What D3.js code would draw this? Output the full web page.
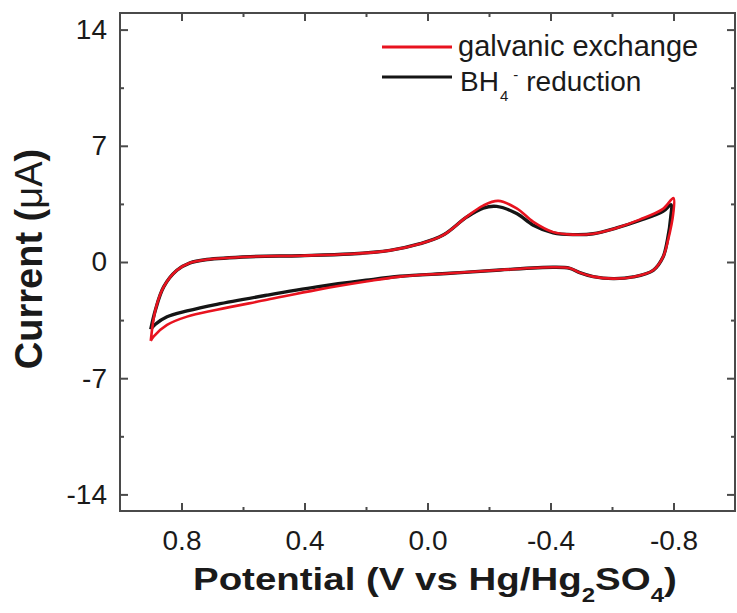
<!DOCTYPE html>
<html>
<head>
<meta charset="utf-8">
<script src="https://cdn.jsdelivr.net/npm/d3@7"></script>
<style>
  body { margin: 0; background: #fff; }
  svg text { font-family: "Liberation Sans", Arial, sans-serif; fill: #1a1a1a; }
</style>
</head>
<body>
<div id="plotPlaceholder"></div>
<script>
const seriesNames = ["galvanic exchange", "BH4- reduction"]
const potentialTicks = [0.8, 0.4, 0.0, -0.4, -0.8]
const potentialMinor = [0.6, 0.2, -0.2, -0.6]
const currentTicks = [14, 7, 0, -7, -14]
const currentMinor = [10.5, 3.5, -3.5, -10.5]

// red loop: anodic branch then cathodic branch
const galvanicPotential = [0.90, 0.885, 0.858, 0.815, 0.772, 0.717, 0.577, 0.414, 0.252, 0.122, 0.024,
  -0.051, -0.127, -0.181, -0.230, -0.290, -0.344, -0.409, -0.474, -0.539, -0.615, -0.690, -0.766, -0.800,
  -0.799, -0.782, -0.766, -0.734, -0.669, -0.604, -0.539, -0.495, -0.463, -0.409, -0.236, -0.073,
  0.089, 0.200, 0.360, 0.522, 0.685, 0.782, 0.847, 0.891, 0.90]
const galvanicCurrent = [-4.75, -2.9, -1.5, -0.5, -0.05, 0.15, 0.32, 0.38, 0.48, 0.7, 1.1,
  1.62, 2.72, 3.4, 3.68, 3.23, 2.42, 1.8, 1.65, 1.7, 2.05, 2.55, 3.2, 3.85,
  2.9, 1.3, 0.3, -0.5, -0.9, -1.0, -0.88, -0.64, -0.38, -0.32, -0.48, -0.68,
  -0.88, -1.18, -1.68, -2.28, -2.88, -3.29, -3.79, -4.49, -4.75]

// black loop
const borohydridePotential = [0.90, 0.885, 0.858, 0.815, 0.772, 0.717, 0.577, 0.414, 0.252, 0.122, 0.024,
  -0.051, -0.127, -0.181, -0.225, -0.290, -0.344, -0.409, -0.474, -0.539, -0.615, -0.690, -0.766, -0.792,
  -0.791, -0.780, -0.766, -0.734, -0.669, -0.604, -0.539, -0.495, -0.463, -0.409, -0.236, -0.073,
  0.089, 0.200, 0.360, 0.522, 0.685, 0.782, 0.847, 0.885, 0.90]
const borohydrideCurrent = [-4.05, -2.9, -1.5, -0.5, -0.05, 0.15, 0.32, 0.38, 0.48, 0.7, 1.1,
  1.62, 2.7, 3.25, 3.35, 2.92, 2.22, 1.76, 1.65, 1.7, 2.05, 2.5, 3.05, 3.45,
  2.7, 1.3, 0.3, -0.5, -0.9, -1.0, -0.88, -0.64, -0.38, -0.32, -0.48, -0.68,
  -0.86, -1.1, -1.5, -2.0, -2.55, -2.95, -3.3, -3.75, -4.05]

const margin = {top: 13, right: 2, bottom: 102, left: 120}
const width = 737 - margin.left - margin.right
const height = 613 - margin.top - margin.bottom

const x = d3.scaleLinear().domain([1.0, -1.0]).range([0, width])
const y = d3.scaleLinear().domain([-15, 15]).range([height, 0])

const canvas = d3.select("#plotPlaceholder").append("svg")
  .attr("width", 737)
  .attr("height", 613)

const focus = canvas.append("g")
  .attr("transform", "translate(" + margin.left + "," + margin.top + ")")

const styleAxis = (g) => {
  g.select(".domain").remove()
  g.selectAll(".tick line").attr("stroke", "#4a4a4a").attr("stroke-width", 2)
  g.selectAll(".tick text").style("font-size", "28px").attr("fill", "#1a1a1a")
}

// major ticks with labels
focus.append("g")
  .attr("transform", "translate(0," + height + ")")
  .call(d3.axisBottom(x).tickValues(potentialTicks).tickSize(-8).tickPadding(12).tickFormat(d => d.toFixed(1)))
  .call(styleAxis)
  .selectAll(".tick text").attr("dy", "0.95em")

focus.append("g")
  .call(d3.axisLeft(y).tickValues(currentTicks).tickSize(-8).tickPadding(13).tickFormat(d => String(d)))
  .call(styleAxis)

// mirrored ticks, no labels
focus.append("g")
  .call(d3.axisTop(x).tickValues(potentialTicks).tickSize(-8).tickFormat(""))
  .call(styleAxis)
focus.append("g")
  .attr("transform", "translate(" + width + ",0)")
  .call(d3.axisRight(y).tickValues(currentTicks).tickSize(-8).tickFormat(""))
  .call(styleAxis)

// minor ticks
focus.append("g")
  .attr("transform", "translate(0," + height + ")")
  .call(d3.axisBottom(x).tickValues(potentialMinor).tickSize(-4).tickFormat(""))
  .call(styleAxis)
focus.append("g")
  .call(d3.axisTop(x).tickValues(potentialMinor).tickSize(-4).tickFormat(""))
  .call(styleAxis)
focus.append("g")
  .call(d3.axisLeft(y).tickValues(currentMinor).tickSize(-4).tickFormat(""))
  .call(styleAxis)
focus.append("g")
  .attr("transform", "translate(" + width + ",0)")
  .call(d3.axisRight(y).tickValues(currentMinor).tickSize(-4).tickFormat(""))
  .call(styleAxis)

focus.append("rect")
  .attr("width", width)
  .attr("height", height)
  .attr("fill", "none")
  .attr("stroke", "#4a4a4a")
  .attr("stroke-width", 2)

const line = d3.line()
  .curve(d3.curveCatmullRom.alpha(0.5))
  .x(d => x(d.v))
  .y(d => y(d.i))

const toPoints = (vs, is) => vs.map((v, k) => ({v: v, i: is[k]}))

focus.append("path")
  .datum(toPoints(borohydridePotential, borohydrideCurrent))
  .attr("d", line)
  .attr("fill", "none")
  .attr("stroke", "#151515")
  .attr("stroke-width", 3.4)
  .attr("stroke-linejoin", "round")

focus.append("path")
  .datum(toPoints(galvanicPotential, galvanicCurrent))
  .attr("d", line)
  .attr("fill", "none")
  .attr("stroke", "#e8131f")
  .attr("stroke-width", 2.6)
  .attr("stroke-linejoin", "round")

// legend
const legend = canvas.append("g")
const legendColors = ["#e8131f", "#151515"]
const legendY = [47, 77]
seriesNames.forEach((name, k) => {
  legend.append("line")
    .attr("x1", 382).attr("x2", 452)
    .attr("y1", legendY[k]).attr("y2", legendY[k])
    .attr("stroke", legendColors[k])
    .attr("stroke-width", 3)
})
legend.append("text")
  .attr("x", 458).attr("y", 56)
  .style("font-size", "29px")
  .text(seriesNames[0])
const bh = legend.append("text")
  .attr("x", 460).attr("y", 91)
  .style("font-size", "28px")
bh.append("tspan").text("BH")
bh.append("tspan").attr("dx", 1).attr("dy", 10).style("font-size", "15px").text("4")
bh.append("tspan").attr("dx", 5).attr("dy", -21).style("font-size", "15px").text("-")
bh.append("tspan").attr("dx", 8).attr("dy", 11).text("reduction")

// Y Axis title
const yTitle = canvas.append("text")
  .attr("text-anchor", "middle")
  .attr("transform", "translate(42,259) rotate(-90)")
  .style("font-size", "38px")
yTitle.append("tspan").style("font-weight", "bold").text("Current (")
yTitle.append("tspan").text("μA")
yTitle.append("tspan").style("font-weight", "bold").text(")")

// X Axis title
const xTitle = canvas.append("text")
  .style("font-size", "32px")
  .style("font-weight", "bold")
xTitle.append("tspan").text("Potential (V vs Hg/Hg")
xTitle.append("tspan").attr("dy", 12).style("font-size", "20px").text("2")
xTitle.append("tspan").attr("dy", -12).text("SO")
xTitle.append("tspan").attr("dy", 12).style("font-size", "20px").text("4")
xTitle.append("tspan").attr("dy", -12).text(")")
const titleWidth = xTitle.node().getComputedTextLength()
xTitle.attr("transform", "translate(193,590) scale(" + (484 / titleWidth) + ",1)")
</script>
</body>
</html>
